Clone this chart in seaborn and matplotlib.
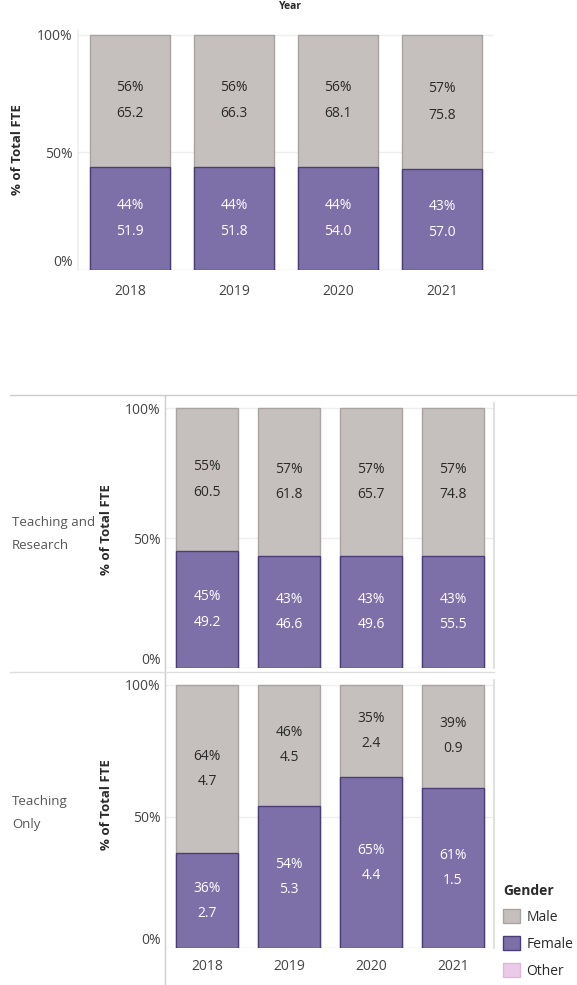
import matplotlib
matplotlib.use("Agg")
import matplotlib.pyplot as plt
import seaborn as sns
from matplotlib.patches import Patch
from matplotlib.lines import Line2D

sns.set_theme(style="white")
plt.rcParams['font.family'] = ['Open Sans', 'DejaVu Sans']

years = ['2018', '2019', '2020', '2021']

all_male_pct = [56, 56, 56, 57]
all_male_fte = [65.2, 66.3, 68.1, 75.8]
all_female_pct = [44, 44, 44, 43]
all_female_fte = [51.9, 51.8, 54.0, 57.0]

tr_male_pct = [55, 57, 57, 57]
tr_male_fte = [60.5, 61.8, 65.7, 74.8]
tr_female_pct = [45, 43, 43, 43]
tr_female_fte = [49.2, 46.6, 49.6, 55.5]

to_male_pct = [64, 46, 35, 39]
to_male_fte = [4.7, 4.5, 2.4, 0.9]
to_female_pct = [36, 54, 65, 61]
to_female_fte = [2.7, 5.3, 4.4, 1.5]

yticks = [0, 50, 100]
ytick_labels = ['0%', '50%', '100%']
row_labels = ['Teaching and\nResearch', 'Teaching\nOnly']
legend_labels = ['Male', 'Female', 'Other']

MALE = '#C5C0BD'
MALE_EDGE = '#A9A4A1'
FEMALE = '#7D70A8'
FEMALE_EDGE = '#4A3D78'
OTHER = '#EBC9E8'
TXT = '#2A2A2A'

W, H = 577, 985
fig = plt.figure(figsize=(W / 100, H / 100), dpi=100)


def px_axes(left, right, y0, y100, ymax=102):
    ppu = (y0 - y100) / 100.0
    top = y0 - ppu * ymax
    return fig.add_axes([left / W, 1 - y0 / H, (right - left) / W, (y0 - top) / H]), ymax


def draw_panel(ax, ymax, mpct, mfte, fpct, ffte, width, gap_pt, fs):
    totals = [m + f for m, f in zip(mpct, fpct)]
    sns.barplot(x=years, y=totals, color=MALE, edgecolor=MALE_EDGE, linewidth=1,
                width=width, saturation=1, ax=ax)
    sns.barplot(x=years, y=fpct, color=FEMALE, edgecolor=FEMALE_EDGE, linewidth=1,
                width=width, saturation=1, ax=ax)
    ax.set_xlim(-0.5, 3.5)
    ax.set_ylim(0, ymax)
    ax.set_yticks(yticks)
    ax.set_yticklabels(ytick_labels)
    ax.tick_params(axis='both', length=0, labelsize=fs, colors='#444444', pad=4)
    ax.get_yticklabels()[0].set_va('bottom')
    ax.set_xlabel('')
    ax.set_ylabel('')
    for y in [50, 100]:
        ax.axhline(y, color='#EEEEEE', lw=1, zorder=0)
    ax.axhline(0, color='#CCCCCC', lw=1, ls=(0, (2, 1)), zorder=0)
    for i in range(len(years)):
        fc = fpct[i] / 2
        mc = fpct[i] + mpct[i] / 2
        for yc, p, v, col in [(mc, mpct[i], mfte[i], TXT), (fc, fpct[i], ffte[i], 'white')]:
            ax.annotate(f'{p}%', (i, yc), xytext=(0, gap_pt), textcoords='offset points',
                        ha='center', va='center', fontsize=fs, color=col)
            ax.annotate(f'{v:.1f}', (i, yc), xytext=(0, -gap_pt), textcoords='offset points',
                        ha='center', va='center', fontsize=fs, color=col)


# Top chart
ax1, ym = px_axes(78, 494, 270, 35)
draw_panel(ax1, ym, all_male_pct, all_male_fte, all_female_pct, all_female_fte, 0.77, 9.5, 10)
for s in ['top', 'right', 'bottom']:
    ax1.spines[s].set_visible(False)
ax1.spines['left'].set_color('#EEEEEE')
ax1.tick_params(axis='x', pad=10)
fig.text(18 / W, 1 - 150 / H, '% of Total FTE', rotation=90, ha='center', va='center',
         fontsize=9.5, fontweight='bold', color=TXT)
fig.text(290 / W, 1 - 1 / H, 'Year', ha='center', va='top', fontsize=7.5,
         fontweight='bold', color=TXT)

# Bottom panels
ax2, ym2 = px_axes(166, 494, 668, 408)
draw_panel(ax2, ym2, tr_male_pct, tr_male_fte, tr_female_pct, tr_female_fte, 0.76, 9, 10)
ax2.set_xticklabels([])
ax3, ym3 = px_axes(166, 494, 948, 685)
draw_panel(ax3, ym3, to_male_pct, to_male_fte, to_female_pct, to_female_fte, 0.76, 9, 10)
ax3.tick_params(axis='x', pad=8)
for ax in (ax2, ax3):
    for s in ['top', 'bottom', 'left']:
        ax.spines[s].set_visible(False)
    ax.spines['right'].set_color('#DDDDDD')

for yc in (530, 805):
    fig.text(107 / W, 1 - yc / H, '% of Total FTE', rotation=90, ha='center', va='center',
             fontsize=9.5, fontweight='bold', color=TXT)
fig.text(12 / W, 1 - 534 / H, row_labels[0], ha='left', va='center', fontsize=9.5,
         color='#555555', linespacing=2.0)
fig.text(12 / W, 1 - 813 / H, row_labels[1], ha='left', va='center', fontsize=9.5,
         color='#555555', linespacing=2.0)


def fline(x0, y0, x1, y1, c='#CCCCCC'):
    fig.add_artist(Line2D([x0 / W, x1 / W], [1 - y0 / H, 1 - y1 / H], color=c, lw=1))


fline(10, 395, 577, 395)
fline(165, 395, 165, 985)
fline(10, 672, 494, 672, '#DDDDDD')

# Legend
handles = [Patch(facecolor=MALE, edgecolor=MALE_EDGE),
           Patch(facecolor=FEMALE, edgecolor=FEMALE_EDGE),
           Patch(facecolor=OTHER, edgecolor='#DDB8DA')]
leg = fig.legend(handles, legend_labels, title='Gender', loc='upper left',
                 bbox_to_anchor=(503 / W, 1 - 884 / H), frameon=False, fontsize=10,
                 title_fontsize=10, handlelength=1.2, handleheight=1.2, handletextpad=0.5,
                 labelspacing=0.8, alignment='left', borderaxespad=0, borderpad=0)
leg.get_title().set_fontweight('bold')
leg.get_title().set_color(TXT)
for t in leg.get_texts():
    t.set_color(TXT)

fig.savefig('out.png', dpi=100)
